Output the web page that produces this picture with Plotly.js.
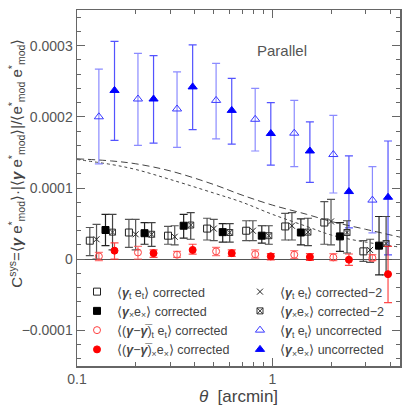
<!DOCTYPE html>
<html>
<head>
<meta charset="utf-8">
<script src="https://cdn.plot.ly/plotly-3.0.1.min.js"></script>
<style>html,body{margin:0;padding:0;background:#fff}#chart{width:409px;height:409px}</style>
</head>
<body>
<div id="chart"></div>
<script>
// all y values in units of 1e-4
var SCALE = 1e-4;

// <gamma_t e_t> corrected (open squares)
var thSqOpen = [0.1163, 0.1844, 0.2923, 0.4632, 0.7341, 1.163, 1.844, 2.923];
var ySqOpen  = [0.26, 0.375, 0.33, 0.43, 0.40, 0.46, 0.515, 0.11];
var hiSqOpen = [0.445, 0.56, 0.46, 0.575, 0.54, 0.645, 0.81, 0.26];
var loSqOpen = [0.05, 0.165, 0.21, 0.27, 0.26, 0.27, 0.21, -0.03];

// <gamma_t e_t> corrected-2 (crosses)
var thCross = [0.1259, 0.1996, 0.3163, 0.5013, 0.7946, 1.259, 1.996, 3.163];
var yCross  = [0.28, 0.35, 0.315, 0.43, 0.40, 0.47, 0.53, 0.13];
var hiCross = [0.49, 0.56, 0.47, 0.56, 0.54, 0.655, 0.84, 0.28];
var loCross = [0.0, 0.13, 0.2, 0.26, 0.26, 0.27, 0.2, -0.045];

// <gamma_x e_x> corrected (filled squares)
var thSqFill = [0.1399, 0.2217, 0.3515, 0.557, 0.8828, 1.399, 2.217, 3.515];
var ySqFill  = [0.41, 0.365, 0.47, 0.38, 0.33, 0.375, 0.32, 0.19];
var hiSqFill = [0.63, 0.515, 0.63, 0.50, 0.47, 0.565, 0.515, 0.60];
var loSqFill = [0.19, 0.21, 0.295, 0.24, 0.225, 0.20, 0.11, -0.22];

// <gamma_x e_x> corrected-2 (crossed squares)
var thSqX = [0.152, 0.241, 0.382, 0.605, 0.959, 1.52, 2.41, 3.82];
var ySqX  = [0.38, 0.35, 0.48, 0.375, 0.33, 0.38, 0.375, 0.22];
var hiSqX = [0.63, 0.515, 0.655, 0.50, 0.47, 0.575, 0.54, 0.60];
var loSqX = [0.13, 0.18, 0.28, 0.24, 0.21, 0.19, 0.087, -0.22];

// <(gamma - gammabar)_t e_t> corrected (open red circles)
var thRedOpen = [0.1294, 0.2051, 0.3251, 0.5152, 0.8166, 1.294, 2.051, 3.251];
var yRedOpen  = [0.04, 0.095, 0.063, 0.11, 0.07, 0.063, 0.025, 0.017];
var hiRedOpen = [0.095, 0.18, 0.11, 0.165, 0.13, 0.12, 0.077, 0.063];
var loRedOpen = [-0.02, 0.0, 0.025, 0.05, 0.015, 0.01, -0.02, -0.02];

// <(gamma - gammabar)_x e_x> corrected (filled red circles)
var thRedFill = [0.1556, 0.2465, 0.3908, 0.6194, 0.9817, 1.556, 2.465, 3.908];
var yRedFill  = [0.12, 0.085, 0.13, 0.085, 0.04, 0.03, -0.007, -0.21];
var hiRedFill = [0.23, 0.13, 0.21, 0.13, 0.077, 0.077, 0.073, 0.18];
var loRedFill = [0.0, 0.025, 0.07, 0.04, -0.01, -0.017, -0.087, -0.61];

// <gamma_t e_t> uncorrected (open blue triangles)
var thBlueOpen = [0.1294, 0.2051, 0.3251, 0.5152, 0.8166, 1.294, 2.051, 3.251];
var yBlueOpen  = [2.0, 2.25, 2.11, 2.23, 1.965, 1.77, 1.47, 0.83];
var hiBlueOpen = [2.67, 2.89, 2.63, 2.75, 2.40, 2.23, 2.02, 1.30];
var loBlueOpen = [1.34, 1.60, 1.57, 1.69, 1.52, 1.30, 0.93, 0.37];

// <gamma_x e_x> uncorrected (filled blue triangles)
var thBlueFill = [0.1556, 0.2465, 0.3908, 0.6194, 0.9817, 1.556, 2.465, 3.908];
var yBlueFill  = [2.37, 2.25, 2.42, 2.09, 1.765, 1.52, 0.95, 0.87];
var hiBlueFill = [3.06, 2.86, 3.01, 2.54, 2.20, 1.93, 1.45, 1.66];
var loBlueFill = [1.67, 1.63, 1.82, 1.615, 1.32, 1.08, 0.44, 0.06];

// model curves
var thModel = [0.1, 0.15, 0.2, 0.3, 0.5, 0.7, 1.0, 1.5, 2.0, 3.0, 4.5];
var yDashed = [1.41, 1.38, 1.34, 1.24, 1.05, 0.90, 0.76, 0.63, 0.53, 0.42, 0.31];
var yDotted = [1.40, 1.33, 1.26, 1.12, 0.93, 0.80, 0.63, 0.46, 0.34, 0.24, 0.17];

var yTickVals = [-1, 0, 1, 2, 3];
var yTickText = ['\u22120.0001', '0', '0.0001', '0.0002', '0.0003'];
var xMinor = [0.2, 0.3, 0.4, 0.5, 0.6, 0.7, 0.8, 0.9, 2, 3, 4];

var GT = '<b><i>\u03b3</i></b>';
var GB = '<b><i>\u03b3\u0305</i></b>';
var labels = [
  '\u27e8' + GT + '<sub>t</sub> e<sub>t</sub>\u27e9 corrected',
  '\u27e8' + GT + '<sub>t</sub> e<sub>t</sub>\u27e9 corrected\u22122',
  '\u27e8' + GT + '<sub>\u00d7</sub>e<sub>\u00d7</sub>\u27e9 corrected',
  '\u27e8' + GT + '<sub>\u00d7</sub>e<sub>\u00d7</sub>\u27e9 corrected\u22122',
  '\u27e8(' + GT + '\u2212' + GB + ')<sub>t</sub> e<sub>t</sub>\u27e9 corrected',
  '\u27e8(' + GT + '\u2212' + GB + ')<sub>\u00d7</sub>e<sub>\u00d7</sub>\u27e9 corrected',
  '\u27e8' + GT + '<sub>t</sub> e<sub>t</sub>\u27e9 uncorrected',
  '\u27e8' + GT + '<sub>\u00d7</sub>e<sub>\u00d7</sub>\u27e9 uncorrected'
];

function sc(a) { return a.map(function (v) { return v * SCALE; }); }
function diff(a, b) { return a.map(function (v, i) { return (v - b[i]) * SCALE; }); }

function pts(name, rank, th, y, hi, lo, symbol, size, color, barColor) {
  return {
    x: th, y: sc(y), type: 'scatter', mode: 'markers', name: name,
    legendrank: rank,
    marker: {symbol: symbol, size: size, color: color, line: {color: color, width: 1}},
    error_y: {type: 'data', symmetric: false, array: diff(hi, y), arrayminus: diff(y, lo),
      color: barColor, thickness: 1.2, width: 4}
  };
}

var data = [
  {x: thModel, y: sc(yDashed), type: 'scatter', mode: 'lines', showlegend: false,
   line: {color: '#444', width: 1, dash: '7px,4px', shape: 'spline'}},
  {x: thModel, y: sc(yDotted), type: 'scatter', mode: 'lines', showlegend: false,
   line: {color: '#444', width: 1, dash: 'dot', shape: 'spline'}},
  pts(labels[6], 6, thBlueOpen, yBlueOpen, hiBlueOpen, loBlueOpen, 'triangle-up-open', 8, '#3a3aff', 'rgba(90,90,255,0.7)'),
  pts(labels[7], 8, thBlueFill, yBlueFill, hiBlueFill, loBlueFill, 'triangle-up', 8, '#0000ff', 'rgba(40,40,255,0.8)'),
  pts(labels[0], 1, thSqOpen, ySqOpen, hiSqOpen, loSqOpen, 'square-open', 7, '#222', '#555'),
  pts(labels[1], 2, thCross, yCross, hiCross, loCross, 'x-thin-open', 6, '#222', '#555'),
  pts(labels[2], 3, thSqFill, ySqFill, hiSqFill, loSqFill, 'square', 7, '#000', '#222'),
  pts(labels[3], 4, thSqX, ySqX, hiSqX, loSqX, 'square-x-open', 6, '#333', '#444'),
  pts(labels[4], 5, thRedOpen, yRedOpen, hiRedOpen, loRedOpen, 'circle-open', 7, '#ff4040', 'rgba(255,80,80,0.75)'),
  pts(labels[5], 7, thRedFill, yRedFill, hiRedFill, loRedFill, 'circle', 7, '#ff0000', 'rgba(255,40,40,0.85)')
];

var axisFont = {family: 'Liberation Sans, Arial, sans-serif', size: 14, color: '#555'};

var layout = {
  width: 409, height: 409,
  margin: {l: 77, r: 9, t: 10, b: 43},
  paper_bgcolor: '#fff', plot_bgcolor: '#fff',
  font: {family: 'Liberation Sans, Arial, sans-serif', color: '#444'},
  xaxis: {
    type: 'log', range: [-1, Math.log10(4.5)],
    tickvals: [0.1, 1], ticktext: ['0.1', '1'],
    ticks: 'inside', ticklen: 8, tickcolor: '#666', tickwidth: 1,
    minor: {tickmode: 'array', tickvals: xMinor, ticks: 'inside', ticklen: 4, tickcolor: '#666'},
    showline: true, linecolor: '#666', linewidth: 1.5, mirror: 'ticks',
    showgrid: false, zeroline: false, tickfont: axisFont,
    title: {text: '<i>\u03b8</i>  [arcmin]', font: {size: 17, color: '#444'}, standoff: 4}
  },
  yaxis: {
    range: [-1.5 * SCALE, 3.5 * SCALE],
    tickvals: sc(yTickVals), ticktext: yTickText,
    ticks: 'inside', ticklen: 8, tickcolor: '#666', tickwidth: 1,
    minor: {tickmode: 'linear', tick0: 0, dtick: 0.2 * SCALE, ticks: 'inside', ticklen: 4, tickcolor: '#666'},
    showline: true, linecolor: '#666', linewidth: 1.5, mirror: 'ticks',
    showgrid: false, zeroline: true, zerolinecolor: '#555', zerolinewidth: 1.2,
    tickfont: axisFont
  },
  legend: {
    orientation: 'h', x: 0.0, y: 0.25, xanchor: 'left', yanchor: 'top',
    entrywidth: 118, entrywidthmode: 'pixels',
    bgcolor: 'rgba(0,0,0,0)', font: {size: 12.5, color: '#444'},
    itemwidth: 30, tracegroupgap: 0
  },
  annotations: [{
    text: 'Parallel', xref: 'paper', yref: 'paper', x: 0.635, y: 0.915,
    showarrow: false, font: {size: 15, color: '#555'}
  }, {
    text: 'C<sup>sys</sup>=\u27e8<b><i>\u03b3</i></b> e<sup>*</sup><sub>mod</sub>\u27e9\u00b7|\u27e8<b><i>\u03b3</i></b> e<sup>*</sup><sub>mod</sub>\u27e9|/\u27e8e<sup>*</sup><sub>mod</sub> e<sup>*</sup><sub>mod</sub>\u27e9',
    xref: 'paper', yref: 'paper', x: -0.19, y: 0.57, xanchor: 'center', yanchor: 'middle',
    textangle: -90, showarrow: false, font: {size: 15, color: '#444'}
  }],
  showlegend: true
};

Plotly.newPlot('chart', data, layout, {displayModeBar: false, staticPlot: true});
</script>
</body>
</html>
